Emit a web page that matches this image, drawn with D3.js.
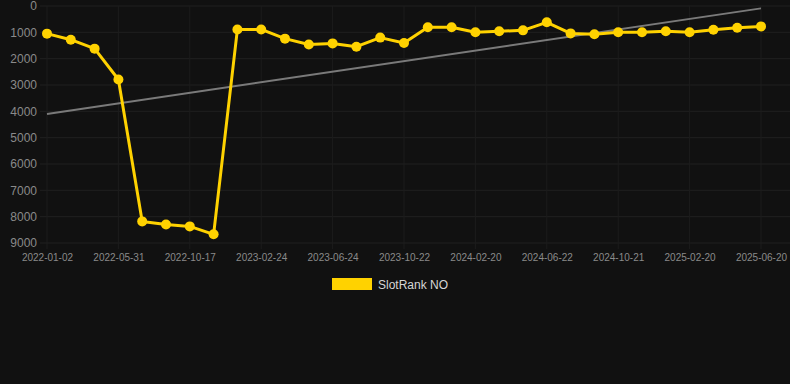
<!DOCTYPE html>
<html>
<head>
<meta charset="utf-8">
<script src="https://cdn.jsdelivr.net/npm/d3@7"></script>
<style>
  html, body { margin: 0; padding: 0; background: #111111; }
  svg { display: block; font-family: "Liberation Sans", Arial, sans-serif; }
</style>
</head>
<body>
<div id="chart"></div>
<script>
// dates of each sample (labels shown every 3rd; in-between dates estimated)
const dates = [
  "2022-01-02", "2022-02-21", "2022-04-11", "2022-05-31", "2022-07-20", "2022-08-28",
  "2022-10-17", "2022-11-26", "2023-01-15", "2023-02-24", "2023-04-05", "2023-05-15",
  "2023-06-24", "2023-08-03", "2023-09-12", "2023-10-22", "2023-12-01", "2024-01-10",
  "2024-02-20", "2024-03-31", "2024-05-11", "2024-06-22", "2024-08-01", "2024-09-10",
  "2024-10-21", "2024-11-30", "2025-01-10", "2025-02-20", "2025-04-01", "2025-05-11",
  "2025-06-20"
];
const ranks = [
  1050, 1280, 1620, 2790, 8180, 8300, 8370, 8670, 890, 890,
  1240, 1460, 1420, 1545, 1200, 1405, 810, 810, 1000, 960,
  925, 620, 1040, 1075, 1000, 1000, 960, 1000, 900, 825,
  775
];
const trend = [4100, 90]; // trend line value at first and last date
const yTicks = [0, 1000, 2000, 3000, 4000, 5000, 6000, 7000, 8000, 9000];
const seriesName = "SlotRank NO";

const width = 790, height = 384;
const lineColor = "#FFD200";

const svg = d3.select("#chart").append("svg")
  .attr("width", width)
  .attr("height", height);

svg.append("rect").attr("width", width).attr("height", height).attr("fill", "#111111");

const x = d3.scalePoint().domain(dates).range([47, 761]);
const y = d3.scaleLinear().domain([0, 9000]).range([6, 243]);

// grid
const tickDates = dates.filter((d, i) => i % 3 === 0);
svg.append("g")
  .selectAll("line")
  .data(yTicks)
  .join("line")
    .attr("x1", 40).attr("x2", 790)
    .attr("y1", d => y(d)).attr("y2", d => y(d))
    .attr("stroke", "#202020").attr("stroke-width", 1);

svg.append("g")
  .selectAll("line")
  .data(tickDates)
  .join("line")
    .attr("x1", d => x(d)).attr("x2", d => x(d))
    .attr("y1", 6).attr("y2", 249)
    .attr("stroke", "#1c1c1c").attr("stroke-width", 1);

// axes
const yAxis = svg.append("g")
  .attr("transform", "translate(37,0)")
  .call(d3.axisLeft(y).tickValues(yTicks).tickSize(0).tickPadding(0).tickFormat(d3.format("d")));
yAxis.select(".domain").remove();
yAxis.selectAll("text").attr("fill", "#8a8a8a").style("font-size", "12px");

const xAxis = svg.append("g")
  .attr("transform", "translate(0,249)")
  .call(d3.axisBottom(x).tickValues(tickDates).tickSize(0).tickPadding(5));
xAxis.select(".domain").remove();
xAxis.selectAll("text").attr("fill", "#8a8a8a").style("font-size", "10px");

// trend line
svg.append("line")
  .attr("x1", x(dates[0])).attr("y1", y(trend[0]))
  .attr("x2", x(dates[dates.length - 1])).attr("y2", y(trend[1]))
  .attr("stroke", "#7a7a7a").attr("stroke-width", 2);

// series
const data = dates.map((d, i) => ({ date: d, value: ranks[i] }));
svg.append("path")
  .datum(data)
  .attr("fill", "none")
  .attr("stroke", lineColor)
  .attr("stroke-width", 3)
  .attr("stroke-linejoin", "round")
  .attr("d", d3.line().x(d => x(d.date)).y(d => y(d.value)));

svg.append("g")
  .selectAll("circle")
  .data(data)
  .join("circle")
    .attr("cx", d => x(d.date))
    .attr("cy", d => y(d.value))
    .attr("r", 5)
    .attr("fill", lineColor);

// legend
const legend = svg.append("g").attr("transform", "translate(332,278)");
legend.append("rect").attr("width", 40).attr("height", 12).attr("fill", lineColor);
legend.append("text")
  .attr("x", 46).attr("y", 10.5)
  .attr("fill", "#d6d6d6")
  .style("font-size", "12px")
  .text(seriesName);
</script>
</body>
</html>
